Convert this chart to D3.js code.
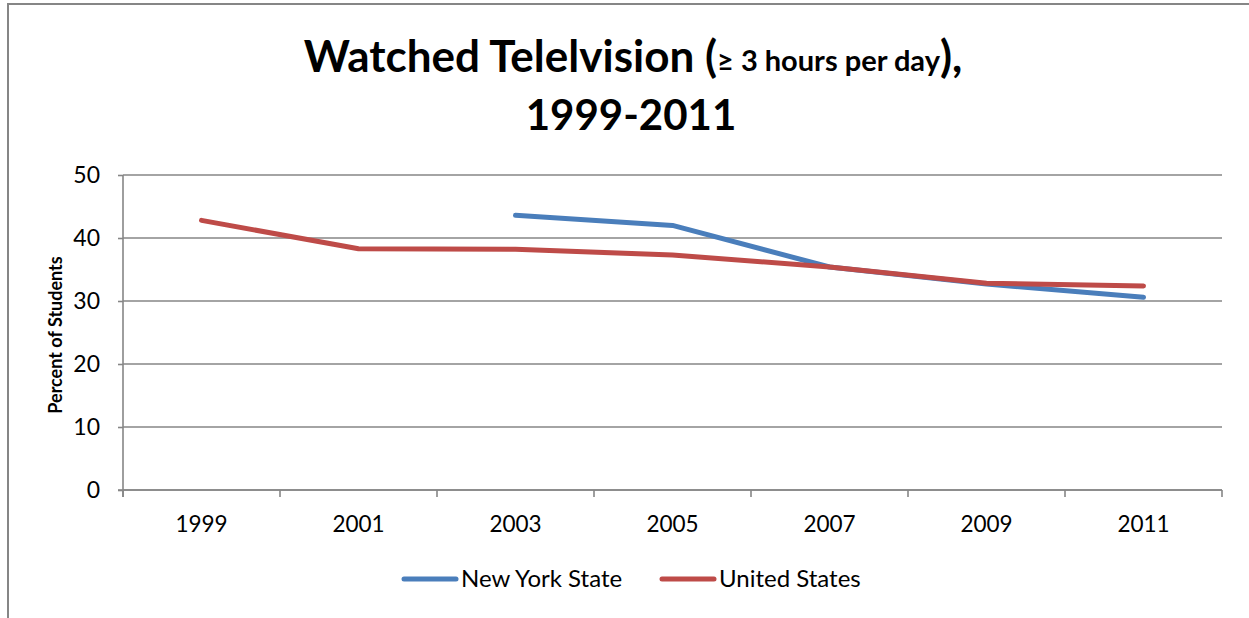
<!DOCTYPE html>
<html>
<head>
<meta charset="utf-8">
<script src="https://cdn.jsdelivr.net/npm/d3@7"></script>
<style>
  html, body { margin: 0; padding: 0; background: #fff; }
  svg { display: block; font-family: Lato, "Open Sans", sans-serif; }
</style>
</head>
<body>
<svg id="chart" width="1249" height="618"></svg>
<script>
const years = ["1999", "2001", "2003", "2005", "2007", "2009", "2011"];
const nyValues = [null, null, 43.6, 42.0, 35.4, 32.7, 30.6];
const usValues = [42.8, 38.3, 38.2, 37.3, 35.4, 32.8, 32.4];
const yTicks = [0, 10, 20, 30, 40, 50];
const seriesNames = ["New York State", "United States"];
const seriesColors = ["#4A7EBB", "#BE4B48"];

(function () {
const svg = d3.select("#chart");
const grid = "#868686";

// outer border (chart area frame, cut by viewport on right/bottom)
svg.append("rect").attr("x", 8).attr("y", 4).attr("width", 1300).attr("height", 700)
  .attr("fill", "none").attr("stroke", grid).attr("stroke-width", 2);

const pLeft = 123, pRight = 1222, pTop = 175, pBottom = 490;
const x = d3.scaleBand().domain(years).range([pLeft, pRight]).padding(0);
const y = d3.scaleLinear().domain([0, 50]).range([pBottom, pTop]);

// gridlines
svg.append("g").selectAll("line").data(yTicks).join("line")
  .attr("x1", pLeft).attr("x2", pRight)
  .attr("y1", d => y(d)).attr("y2", d => y(d))
  .attr("stroke", grid).attr("stroke-width", 1.6);

// y axis
const yAxis = svg.append("g").attr("transform", `translate(${pLeft},0)`)
  .call(d3.axisLeft(y).tickValues(yTicks).tickSize(5).tickPadding(18).tickFormat(d3.format("d")));
yAxis.select(".domain").remove();
yAxis.append("line").attr("x1", 0).attr("x2", 0).attr("y1", pTop).attr("y2", pBottom + 7)
  .attr("stroke", grid).attr("stroke-width", 1.6);
yAxis.selectAll(".tick line").attr("stroke", grid).attr("stroke-width", 1.6);
yAxis.selectAll(".tick text").attr("font-size", 23).attr("fill", "#000")
  .attr("font-family", "Lato, sans-serif");

// x axis
const xAxis = svg.append("g").attr("transform", `translate(0,${pBottom})`)
  .call(d3.axisBottom(x).tickSize(0).tickPadding(26));
xAxis.select(".domain").remove();
xAxis.selectAll(".tick text").attr("font-size", 22.5).attr("fill", "#000")
  .attr("font-family", "Lato, sans-serif");
const boundaries = years.map(d => x(d)).concat([x(years[years.length - 1]) + x.bandwidth()]);
xAxis.selectAll("line.tk").data(boundaries).join("line").attr("class", "tk")
  .attr("x1", d => d).attr("x2", d => d).attr("y1", 0).attr("y2", 7)
  .attr("stroke", grid).attr("stroke-width", 1.6);
xAxis.append("line").attr("x1", pLeft - 5).attr("x2", pRight).attr("y1", 0).attr("y2", 0)
  .attr("stroke", grid).attr("stroke-width", 1.6);

// lines
const line = d3.line()
  .defined(d => d.v != null)
  .x(d => x(d.year) + x.bandwidth() / 2)
  .y(d => y(d.v));
[nyValues, usValues].forEach((vals, i) => {
  const data = years.map((yr, j) => ({ year: yr, v: vals[j] }));
  svg.append("path").datum(data).attr("d", line)
    .attr("fill", "none").attr("stroke", seriesColors[i]).attr("stroke-width", 5)
    .attr("stroke-linecap", "round").attr("stroke-linejoin", "round");
});

// y axis title
svg.append("text").attr("transform", "translate(62,335) rotate(-90)")
  .attr("text-anchor", "middle").attr("font-size", 18).attr("font-weight", 700)
  .text("Percent of Students");

// title
const t1 = svg.append("text").attr("x", 633).attr("y", 72).attr("text-anchor", "middle")
  .attr("font-weight", 700).attr("font-size", 44);
t1.append("tspan").text("Watched Telelvision (");
t1.append("tspan").attr("font-size", 29).attr("dy", -1).text("≥ 3 hours per day");
t1.append("tspan").attr("dy", 1).text("),");
svg.append("text").attr("x", 631).attr("y", 130).attr("text-anchor", "middle")
  .attr("font-weight", 700).attr("font-size", 42).text("1999-2011");

// legend
const legendX = [402, 660];
seriesNames.forEach((name, i) => {
  const g = svg.append("g").attr("transform", `translate(${legendX[i]},579)`);
  g.append("line").attr("x1", 2).attr("x2", 54).attr("y1", 0).attr("y2", 0)
    .attr("stroke", seriesColors[i]).attr("stroke-width", 5).attr("stroke-linecap", "round");
  g.append("text").attr("x", 59).attr("y", 8).attr("font-size", 24).text(name);
});
})();
</script>
</body>
</html>
